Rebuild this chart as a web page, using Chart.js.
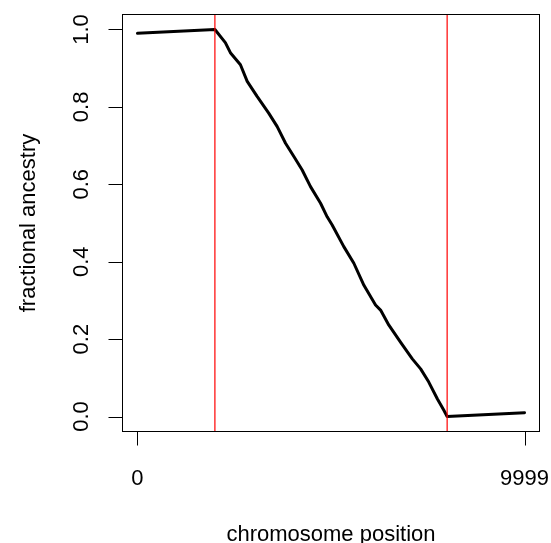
<!DOCTYPE html>
<html>
<head>
<meta charset="utf-8">
<script src="https://cdn.jsdelivr.net/npm/chart.js@4"></script>
<style>
  html, body { margin: 0; padding: 0; background: #fff; }
  #wrap { width: 551px; height: 543px; }
</style>
</head>
<body>
<div id="wrap"><canvas id="ancestryChart" width="551" height="543"></canvas></div>
<script>
// values
const positions = [0, 2000, 2270, 2400, 2660, 2835, 3090, 3390, 3610, 3825, 4040, 4255, 4470,
  4730, 4900, 5030, 5330, 5590, 5850, 6150, 6280, 6495, 6795, 7100, 7315, 7525, 7745, 7915, 8000, 9999];
const ancestry = [0.99, 1.0, 0.966, 0.94, 0.909, 0.866, 0.827, 0.784, 0.749, 0.706, 0.672, 0.637, 0.594,
  0.551, 0.516, 0.495, 0.439, 0.396, 0.339, 0.288, 0.275, 0.236, 0.192, 0.149, 0.123, 0.089, 0.046, 0.016, 0.0, 0.01];
const breakpoints = [2000, 8000];
const xTicks = [0, 9999];
const xTickLabels = ["0", "9999"];
const yTicks = [0, 0.2, 0.4, 0.6, 0.8, 1.0];
const yTickLabels = ["0.0", "0.2", "0.4", "0.6", "0.8", "1.0"];
const xTitle = "chromosome position";
const yTitle = "fractional ancestry";

const FONT = '22px "Liberation Sans", Arial, Helvetica, sans-serif';

// R-style box, axes and labels drawn from the chart's own scales
const rAxes = {
  id: "rAxes",
  afterDraw(chart) {
    const { ctx, chartArea: a, scales } = chart;
    const x = scales.x;
    const y = scales.y;
    ctx.save();
    ctx.strokeStyle = "#000";
    ctx.fillStyle = "#000";
    ctx.lineWidth = 1;
    ctx.strokeRect(a.left + 0.5, a.top + 0.5, a.right - a.left - 1, a.bottom - a.top - 1);

    ctx.font = FONT;
    const tick = 14;

    // x axis
    const bx = a.bottom - 0.5;
    ctx.beginPath();
    ctx.moveTo(x.getPixelForValue(xTicks[0]), bx);
    ctx.lineTo(x.getPixelForValue(xTicks[xTicks.length - 1]), bx);
    xTicks.forEach((v) => {
      const px = Math.round(x.getPixelForValue(v)) + 0.5;
      ctx.moveTo(px, bx);
      ctx.lineTo(px, bx + tick);
    });
    ctx.stroke();
    ctx.textAlign = "center";
    ctx.textBaseline = "alphabetic";
    xTicks.forEach((v, i) => {
      ctx.fillText(xTickLabels[i], x.getPixelForValue(v), 485);
    });

    // y axis
    const lx = a.left + 0.5;
    ctx.beginPath();
    ctx.moveTo(lx, y.getPixelForValue(yTicks[0]));
    ctx.lineTo(lx, y.getPixelForValue(yTicks[yTicks.length - 1]));
    yTicks.forEach((v) => {
      const py = Math.round(y.getPixelForValue(v)) + 0.5;
      ctx.moveTo(lx, py);
      ctx.lineTo(lx - tick, py);
    });
    ctx.stroke();
    yTicks.forEach((v, i) => {
      ctx.save();
      ctx.translate(88, y.getPixelForValue(v));
      ctx.rotate(-Math.PI / 2);
      ctx.fillText(yTickLabels[i], 0, 0);
      ctx.restore();
    });

    // titles
    ctx.fillText(xTitle, (a.left + a.right) / 2, 541);
    ctx.save();
    ctx.translate(35, (a.top + a.bottom) / 2);
    ctx.rotate(-Math.PI / 2);
    ctx.fillText(yTitle, 0, 0);
    ctx.restore();

    ctx.restore();
  },
};

const datasets = breakpoints.map((b) => ({
  data: [{ x: b, y: -0.04 }, { x: b, y: 1.04 }],
  borderColor: "#ff0000",
  borderWidth: 1.2,
  pointRadius: 0,
  order: 0,
}));
datasets.push({
  data: positions.map((p, i) => ({ x: p, y: ancestry[i] })),
  borderColor: "#000",
  borderWidth: 3,
  pointRadius: 0,
  tension: 0,
  borderJoinStyle: "round",
  borderCapStyle: "round",
  order: 1,
});

new Chart(document.getElementById("ancestryChart"), {
  type: "line",
  data: { datasets },
  options: {
    responsive: false,
    animation: false,
    layout: { padding: { left: 122, top: 14, right: 11, bottom: 111 } },
    plugins: { legend: { display: false }, tooltip: { enabled: false } },
    scales: {
      x: { type: "linear", min: -400, max: 10399, display: false },
      y: { min: -0.04, max: 1.04, display: false },
    },
  },
  plugins: [rAxes],
});
</script>
</body>
</html>
